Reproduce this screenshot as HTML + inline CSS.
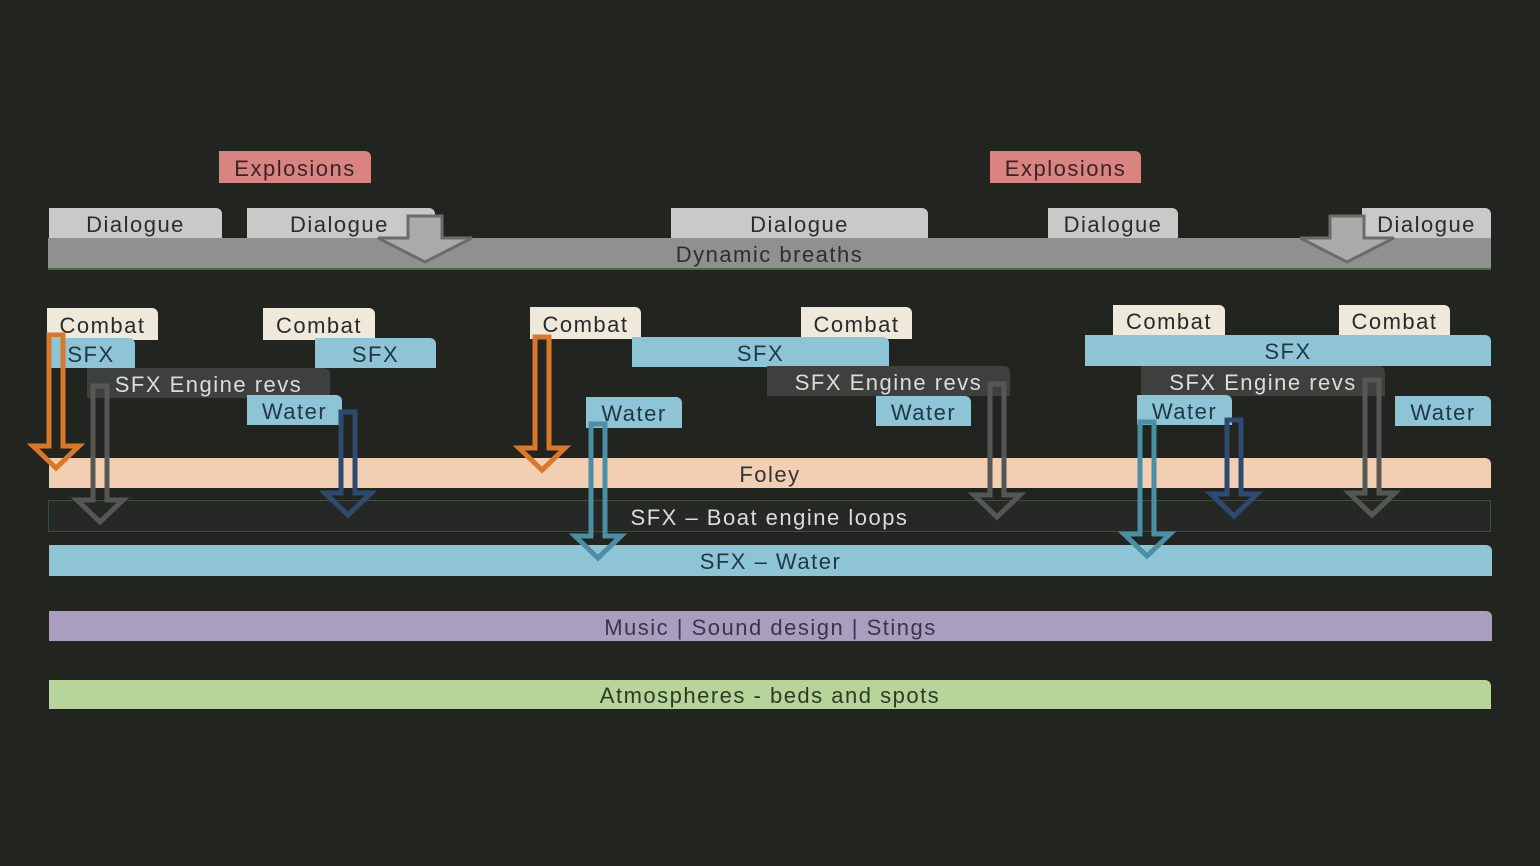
<!DOCTYPE html>
<html><head><style>
html,body{margin:0;padding:0;}
body{width:1540px;height:866px;background:#222420;position:relative;overflow:hidden;font-family:"Liberation Sans","DejaVu Sans",sans-serif;}
.b{position:absolute;box-sizing:border-box;display:flex;align-items:center;justify-content:center;font-size:22px;color:#2e3438;border-top-right-radius:6px;white-space:nowrap;letter-spacing:1.5px;padding-top:3px}
.dl{background:#c9c9c7;color:#2b2b2b}
.ex{background:#d98480;color:#3a2424}
.cb{background:#efe9dc;color:#2a2a2a}
.sf{background:#8ec5d6;color:#213844}
.en{background:#3e403d;color:#dcdcdc}
svg{position:absolute;left:0;top:0}
</style></head><body>
<div class="b ex" style="left:219px;top:151px;width:152px;height:32px">Explosions</div>
<div class="b ex" style="left:990px;top:151px;width:151px;height:32px">Explosions</div>

<div class="b" style="left:48px;top:238px;width:1443px;height:32px;background:#8f918e;color:#2e2e2e;border-radius:0;border-bottom:2px solid #4d6a45">Dynamic breaths</div>
<div class="b dl" style="left:49px;top:208px;width:173px;height:30px">Dialogue</div>
<div class="b dl" style="left:247px;top:208px;width:188px;height:30px;justify-content:flex-start;padding-left:43px">Dialogue</div>
<div class="b dl" style="left:671px;top:208px;width:257px;height:30px">Dialogue</div>
<div class="b dl" style="left:1048px;top:208px;width:130px;height:30px">Dialogue</div>
<div class="b dl" style="left:1362px;top:208px;width:129px;height:30px">Dialogue</div>

<div class="b" style="left:49px;top:458px;width:1442px;height:30px;background:#f2cfb3;color:#333">Foley</div>
<div class="b" style="left:48px;top:500px;width:1443px;height:32px;background:#262826;border:1.5px solid #3c4e3c;color:#dcdcdc;border-radius:0">SFX – Boat engine loops</div>
<div class="b sf" style="left:49px;top:545px;width:1443px;height:31px">SFX – Water</div>
<div class="b" style="left:49px;top:611px;width:1443px;height:30px;background:#a99ec0;color:#3a3648">Music | Sound design | Stings</div>
<div class="b" style="left:49px;top:680px;width:1442px;height:29px;background:#b7d59a;color:#2e3a24">Atmospheres - beds and spots</div>

<div class="b cb" style="left:47px;top:308px;width:111px;height:32px">Combat</div>
<div class="b cb" style="left:263px;top:308px;width:112px;height:32px">Combat</div>
<div class="b cb" style="left:530px;top:307px;width:111px;height:32px">Combat</div>
<div class="b cb" style="left:801px;top:307px;width:111px;height:32px">Combat</div>
<div class="b cb" style="left:1113px;top:305px;width:112px;height:31px">Combat</div>
<div class="b cb" style="left:1339px;top:305px;width:111px;height:31px">Combat</div>

<div class="b sf" style="left:47px;top:338px;width:88px;height:30px">SFX</div>
<div class="b sf" style="left:315px;top:338px;width:121px;height:30px">SFX</div>
<div class="b sf" style="left:632px;top:337px;width:257px;height:30px">SFX</div>
<div class="b sf" style="left:1085px;top:335px;width:406px;height:31px">SFX</div>

<div class="b en" style="left:87px;top:368px;width:243px;height:30px">SFX Engine revs</div>
<div class="b en" style="left:767px;top:366px;width:243px;height:30px">SFX Engine revs</div>
<div class="b en" style="left:1141px;top:366px;width:244px;height:30px">SFX Engine revs</div>

<div class="b sf" style="left:247px;top:395px;width:95px;height:30px">Water</div>
<div class="b sf" style="left:586px;top:397px;width:96px;height:31px">Water</div>
<div class="b sf" style="left:876px;top:396px;width:95px;height:30px">Water</div>
<div class="b sf" style="left:1137px;top:395px;width:95px;height:30px">Water</div>
<div class="b sf" style="left:1395px;top:396px;width:96px;height:30px">Water</div>

<svg width="1540" height="866" viewBox="0 0 1540 866">
<g fill="none" stroke-width="5" stroke-linejoin="miter">
<polygon stroke="#d9772a" points="49,335 63,335 63,446 79,446 56,468 33,446 49,446"/>
<polygon stroke="#555755" points="93,386 107,386 107,500 123,500 100,522 77,500 93,500"/>
<polygon stroke="#2f4a70" points="341,412 355,412 355,493 371,493 348,515 325,493 341,493"/>
<polygon stroke="#d9772a" points="535,337 549,337 549,448 565,448 542,470 519,448 535,448"/>
<polygon stroke="#4b8fa4" points="591,424 605,424 605,536 621,536 598,558 575,536 591,536"/>
<polygon stroke="#555755" points="990,384 1004,384 1004,495 1020,495 997,517 974,495 990,495"/>
<polygon stroke="#4b8fa4" points="1140,422 1154,422 1154,534 1170,534 1147,556 1124,534 1140,534"/>
<polygon stroke="#2f4a70" points="1227,420 1241,420 1241,494 1257,494 1234,516 1211,494 1227,494"/>
<polygon stroke="#555755" points="1365,380 1379,380 1379,493 1395,493 1372,515 1349,493 1365,493"/>
</g>
<g stroke="#6a6c69" stroke-width="3" fill="#a9aba8">
<polygon points="408,216 442,216 442,238 472,238 425,262 378,238 408,238"/>
<polygon points="1330,216 1364,216 1364,238 1394,238 1347,262 1300,238 1330,238"/>
</g>
</svg>
</body></html>
